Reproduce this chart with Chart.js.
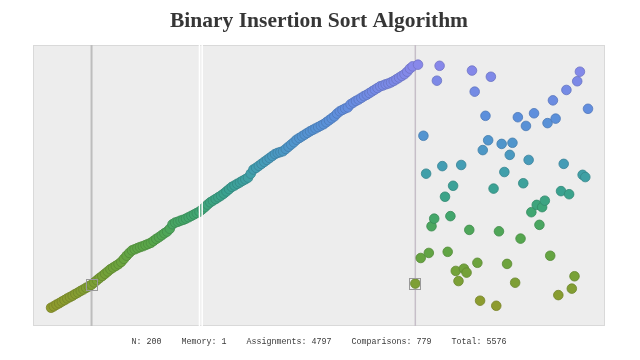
<!DOCTYPE html>
<html>
<head>
<meta charset="utf-8">
<script src="https://cdn.jsdelivr.net/npm/chart.js@4/dist/chart.umd.min.js"></script>
<style>
  html, body { margin: 0; padding: 0; background: #ffffff; }
  canvas { display: block; }
</style>
</head>
<body>
<canvas id="c" width="640" height="360"></canvas>
<script>
// ---- data ----
const chartTitle = "Binary Insertion Sort Algorithm";

// sorted prefix, indices 0..134 (value scale 0..100)
const sortedValues = [
  6.5, 7.0, 7.6, 8.1, 8.7, 9.2, 9.8, 10.3, 10.8, 11.4,
  11.9, 12.5, 13.0, 13.6, 14.1, 14.7, 15.5, 16.3, 17.1, 17.8,
  18.6, 19.4, 20.2, 20.8, 21.4, 22.0, 22.8, 23.9, 25.0, 26.0,
  26.9, 27.3, 27.7, 28.1, 28.4, 28.8, 29.2, 29.6, 30.3, 31.0,
  31.6, 32.3, 33.0, 33.6, 34.6, 36.2, 36.8, 37.1, 37.5, 37.8,
  38.2, 38.7, 39.2, 39.7, 40.2, 40.7, 41.5, 42.3, 43.2, 44.0,
  44.6, 45.2, 45.8, 46.4, 47.1, 47.9, 48.7, 49.5, 50.0, 50.6,
  51.1, 51.7, 52.2, 52.8, 54.2, 55.7, 56.3, 57.0, 57.7, 58.4,
  59.1, 59.8, 60.5, 61.2, 61.6, 61.9, 62.2, 63.0, 63.8, 64.6,
  65.4, 66.3, 66.9, 67.5, 68.1, 68.7, 69.3, 69.8, 70.3, 70.8,
  71.3, 71.8, 72.5, 73.2, 73.9, 74.6, 75.6, 76.4, 76.9, 77.4,
  77.8, 78.9, 79.5, 80.1, 80.6, 81.2, 81.8, 82.3, 82.9, 83.5,
  84.1, 84.7, 85.3, 85.6, 86.0, 86.3, 86.7, 87.2, 87.8, 88.4,
  89.0, 89.6, 90.5, 91.6, 92.4
];
// element being inserted (index 135) and the shifted maximum (index 136)
const currentValue = 15.1;
const shiftedValue = 93.0;
// not yet sorted, indices 137..199
const unsortedValues = [
  24.2, 67.7, 54.2, 26.0, 35.5, 38.2, 87.3, 92.6, 56.9, 46.0,
  26.4, 39.1, 49.9, 19.6, 16.0, 57.3, 20.4, 19.0, 34.2, 90.9,
  83.4, 22.5, 9.0, 62.6, 74.8, 66.1, 88.7, 48.9, 7.2, 33.7,
  64.8, 54.8, 22.1, 60.9, 65.2, 15.4, 74.3, 31.1, 50.8, 71.2,
  59.1, 40.5, 75.7, 43.1, 36.0, 42.3, 44.6, 72.2, 25.0, 80.3,
  73.8, 11.0, 48.0, 57.7, 84.0, 46.9, 13.3, 17.7, 87.1, 90.5,
  53.8, 53.0, 77.3
];

// markers (array indices)
const searchIndex = 15;          // binary-search result (grey line + box)
const rangeIndices = [55, 56];   // white markers
const currentIndex = 135;        // element being inserted (line + box)

// statistics shown under the chart
const statN = 200;
const statMemory = 1;
const statAssignments = 4797;
const statComparisons = 779;
const statTotal = 5576;

// ---- build ----
const values = sortedValues.concat([currentValue, shiftedValue], unsortedValues);
const points = values.map((v, i) => ({ x: i, y: v }));

const colorStops = [
  [0,   [154, 152, 40]],
  [10,  [138, 156, 48]],
  [20,  [114, 162, 58]],
  [30,  [88, 166, 74]],
  [40,  [64, 166, 112]],
  [48,  [58, 162, 144]],
  [56,  [66, 158, 176]],
  [64,  [79, 150, 202]],
  [75,  [92, 143, 220]],
  [85,  [120, 138, 230]],
  [100, [150, 134, 238]]
];
function mix(v, k) {
  let a = colorStops[0], b = colorStops[colorStops.length - 1];
  for (let i = 0; i < colorStops.length - 1; i++) {
    if (v >= colorStops[i][0] && v <= colorStops[i + 1][0]) { a = colorStops[i]; b = colorStops[i + 1]; break; }
  }
  const t = (b[0] === a[0]) ? 0 : (v - a[0]) / (b[0] - a[0]);
  const c = a[1].map((ch, j) => Math.round((ch + (b[1][j] - ch) * t) * k));
  return `rgb(${c[0]},${c[1]},${c[2]})`;
}
const fills = values.map(v => mix(v, 1));
const borders = values.map(v => mix(v, 0.84));

const decor = {
  id: 'decor',
  beforeDatasetsDraw(chart) {
    const { ctx, chartArea: a, scales: { x } } = chart;
    ctx.save();
    ctx.fillStyle = '#ededed';
    ctx.fillRect(a.left, a.top, a.right - a.left, a.bottom - a.top);
    ctx.strokeStyle = '#d9d9d9';
    ctx.lineWidth = 1;
    ctx.strokeRect(a.left + 0.5, a.top + 0.5, a.right - a.left - 1, a.bottom - a.top - 1);
    // grey markers
    ctx.strokeStyle = '#bdbdbd';
    ctx.lineWidth = 2;
    let px = x.getPixelForValue(searchIndex);
    ctx.beginPath(); ctx.moveTo(px, a.top); ctx.lineTo(px, a.bottom); ctx.stroke();
    ctx.strokeStyle = '#c6bec8';
    ctx.lineWidth = 1.5;
    px = x.getPixelForValue(currentIndex);
    ctx.beginPath(); ctx.moveTo(px, a.top); ctx.lineTo(px, a.bottom); ctx.stroke();
    ctx.restore();
  },
  afterDatasetsDraw(chart) {
    const { ctx, chartArea: a, scales: { x, y } } = chart;
    ctx.save();
    ctx.strokeStyle = '#ffffff';
    ctx.lineWidth = 1.5;
    rangeIndices.forEach(i => {
      const px = x.getPixelForValue(i);
      ctx.beginPath(); ctx.moveTo(px, a.top); ctx.lineTo(px, a.bottom); ctx.stroke();
    });
    ctx.strokeStyle = '#999999';
    ctx.lineWidth = 1;
    [searchIndex, currentIndex].forEach(i => {
      const px = x.getPixelForValue(i), py = y.getPixelForValue(values[i]);
      ctx.strokeRect(Math.round(px) - 5.5, Math.round(py) - 5.5, 11, 11);
    });
    ctx.restore();
  }
};

new Chart(document.getElementById('c'), {
  type: 'scatter',
  data: {
    datasets: [{
      data: points,
      pointRadius: 4.8,
      pointBorderWidth: 0.8,
      pointBackgroundColor: fills,
      pointBorderColor: borders,
      pointHoverRadius: 4.8
    }]
  },
  options: {
    responsive: false,
    animation: false,
    devicePixelRatio: 1,
    layout: { padding: { left: 33, right: 35, top: 0, bottom: 0 } },
    scales: {
      x: { type: 'linear', min: -6.7, max: 205.3, display: false },
      y: { type: 'linear', min: 0, max: 100, display: false }
    },
    plugins: {
      legend: { display: false },
      tooltip: { enabled: false },
      title: {
        display: true,
        text: chartTitle,
        color: '#363636',
        font: { family: "'Liberation Serif', 'DejaVu Serif', serif", weight: 'bold', size: 21.5 },
        padding: { top: 9, bottom: 10.2 }
      },
      subtitle: {
        display: true,
        position: 'bottom',
        text: `N: ${statN}    Memory: ${statMemory}    Assignments: ${statAssignments}    Comparisons: ${statComparisons}    Total: ${statTotal}`,
        color: '#3a3a3a',
        font: { family: "'Liberation Mono', 'DejaVu Sans Mono', monospace", size: 8.33 },
        padding: { top: 11, bottom: 13 }
      }
    }
  },
  plugins: [decor]
});
</script>
</body>
</html>
